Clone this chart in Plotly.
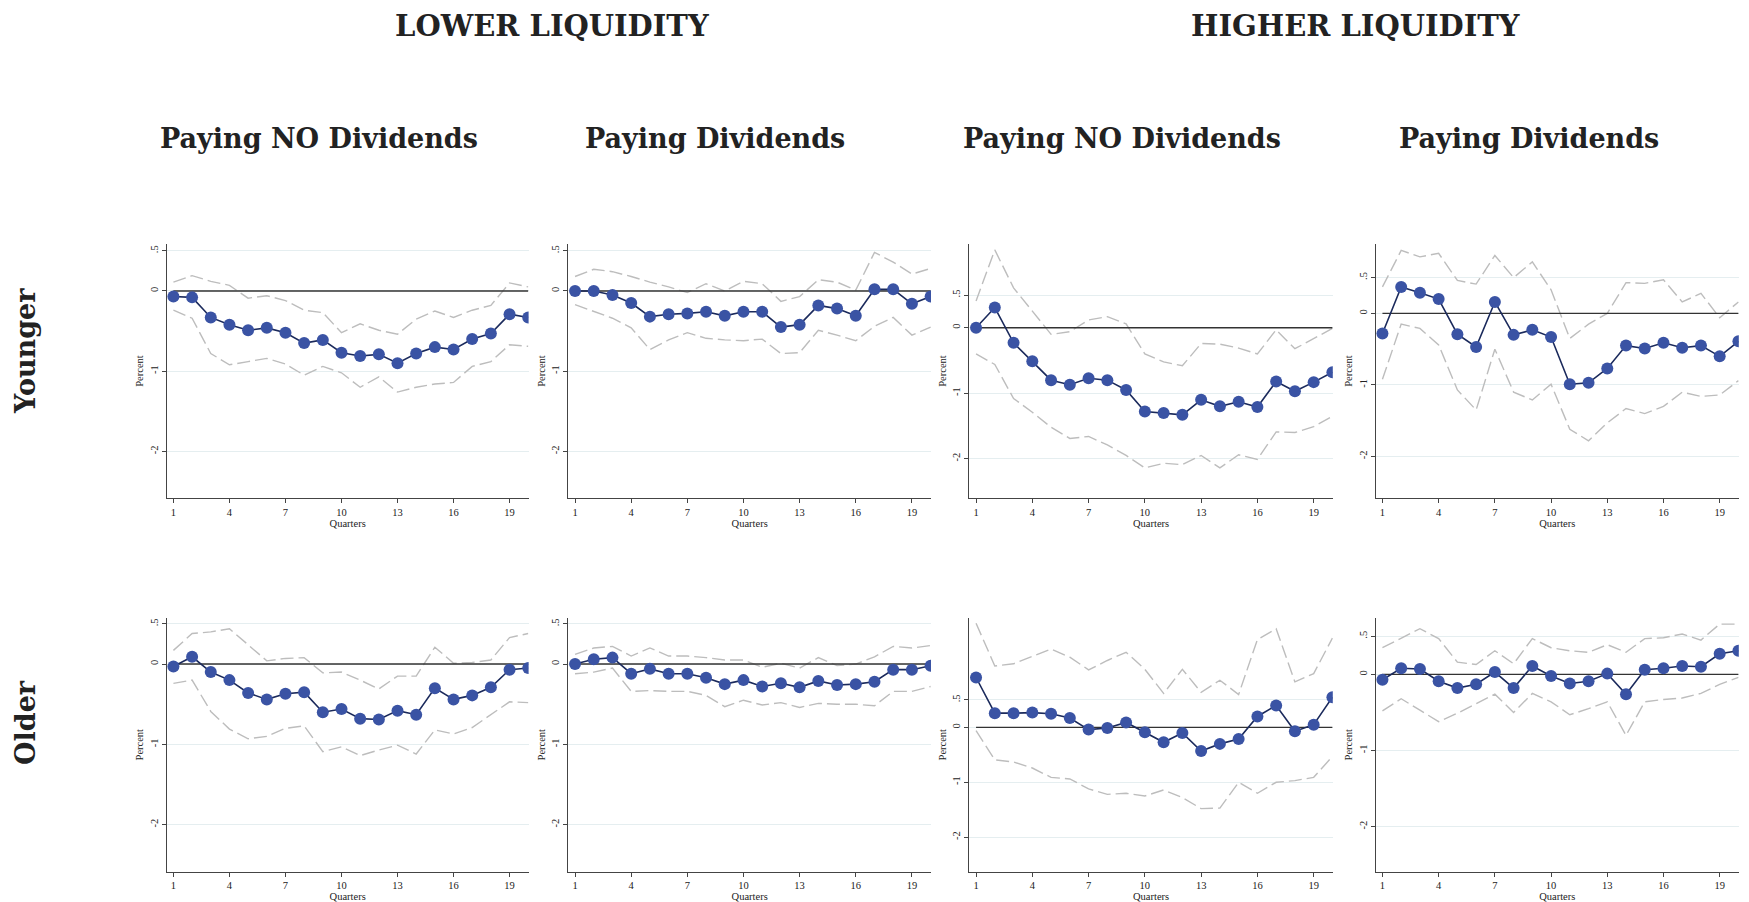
import plotly.graph_objects as go

# ---- data ----
quarters = list(range(1, 21))
x_ticks = [1, 4, 7, 10, 13, 16, 19]
y_ticks = [-2, -1, 0, 0.5]
y_tick_text = ["-2", "-1", "0", ".5"]

col_titles = ["Paying NO Dividends", "Paying Dividends", "Paying NO Dividends", "Paying Dividends"]
group_titles = ["LOWER LIQUIDITY", "HIGHER LIQUIDITY"]
row_titles = ["Younger", "Older"]

# Younger, lower liquidity, no dividends
young_low_nodiv = [-0.07, -0.08, -0.33, -0.42, -0.49, -0.46, -0.52, -0.65, -0.61, -0.77,
                   -0.81, -0.79, -0.90, -0.78, -0.70, -0.73, -0.60, -0.53, -0.29, -0.33]
young_low_nodiv_hi = [0.11, 0.19, 0.12, 0.07, -0.09, -0.06, -0.12, -0.24, -0.27, -0.52,
                      -0.41, -0.49, -0.54, -0.35, -0.25, -0.33, -0.24, -0.18, 0.10, 0.05]
young_low_nodiv_lo = [-0.24, -0.34, -0.78, -0.92, -0.88, -0.84, -0.91, -1.05, -0.94, -1.02,
                      -1.20, -1.07, -1.26, -1.20, -1.16, -1.14, -0.94, -0.88, -0.67, -0.69]

# Younger, lower liquidity, dividends
young_low_div = [0.00, 0.00, -0.05, -0.15, -0.32, -0.29, -0.28, -0.26, -0.31, -0.26,
                 -0.26, -0.45, -0.42, -0.18, -0.22, -0.31, 0.02, 0.02, -0.16, -0.07]
young_low_div_hi = [0.18, 0.27, 0.24, 0.18, 0.11, 0.05, -0.02, 0.09, 0.00, 0.12,
                    0.09, -0.13, -0.07, 0.14, 0.11, 0.01, 0.48, 0.36, 0.21, 0.28]
young_low_div_lo = [-0.17, -0.26, -0.34, -0.46, -0.73, -0.61, -0.52, -0.59, -0.61, -0.62,
                    -0.60, -0.78, -0.77, -0.49, -0.55, -0.62, -0.44, -0.33, -0.55, -0.45]

# Younger, higher liquidity, no dividends
young_high_nodiv = [0.00, 0.31, -0.23, -0.51, -0.80, -0.87, -0.77, -0.80, -0.95, -1.28,
                    -1.30, -1.33, -1.10, -1.20, -1.13, -1.21, -0.82, -0.97, -0.83, -0.68]
young_high_nodiv_hi = [0.41, 1.19, 0.61, 0.25, -0.10, -0.06, 0.12, 0.17, 0.06, -0.40,
                       -0.52, -0.58, -0.24, -0.25, -0.31, -0.40, -0.03, -0.32, -0.16, -0.01]
young_high_nodiv_lo = [-0.40, -0.56, -1.08, -1.29, -1.52, -1.69, -1.66, -1.79, -1.95, -2.14,
                       -2.07, -2.09, -1.95, -2.14, -1.94, -2.01, -1.59, -1.60, -1.51, -1.35]

# Younger, higher liquidity, dividends
young_high_div = [-0.28, 0.37, 0.29, 0.20, -0.29, -0.47, 0.16, -0.30, -0.23, -0.33,
                  -0.99, -0.97, -0.77, -0.45, -0.49, -0.41, -0.48, -0.45, -0.60, -0.39]
young_high_div_hi = [0.37, 0.88, 0.79, 0.84, 0.46, 0.41, 0.81, 0.50, 0.72, 0.33,
                     -0.35, -0.15, 0.00, 0.43, 0.42, 0.47, 0.16, 0.28, -0.06, 0.16]
young_high_div_lo = [-0.92, -0.15, -0.21, -0.44, -1.07, -1.35, -0.50, -1.10, -1.21, -0.99,
                     -1.62, -1.78, -1.53, -1.33, -1.40, -1.30, -1.10, -1.16, -1.14, -0.94]

# Older, lower liquidity, no dividends
old_low_nodiv = [-0.03, 0.09, -0.10, -0.20, -0.36, -0.44, -0.37, -0.35, -0.60, -0.56,
                 -0.68, -0.69, -0.58, -0.63, -0.30, -0.44, -0.39, -0.29, -0.07, -0.05]
old_low_nodiv_hi = [0.17, 0.38, 0.40, 0.44, 0.24, 0.04, 0.07, 0.08, -0.11, -0.10,
                    -0.20, -0.31, -0.15, -0.15, 0.21, 0.01, 0.02, 0.05, 0.33, 0.38]
old_low_nodiv_lo = [-0.24, -0.20, -0.59, -0.81, -0.93, -0.90, -0.80, -0.77, -1.09, -1.03,
                    -1.14, -1.07, -1.01, -1.12, -0.82, -0.87, -0.79, -0.63, -0.47, -0.48]

# Older, lower liquidity, dividends
old_low_div = [0.00, 0.06, 0.08, -0.12, -0.06, -0.12, -0.12, -0.17, -0.25, -0.20,
               -0.28, -0.24, -0.29, -0.21, -0.26, -0.25, -0.22, -0.07, -0.07, -0.02]
old_low_div_hi = [0.12, 0.20, 0.22, 0.10, 0.20, 0.10, 0.10, 0.08, 0.05, 0.05,
                  -0.04, 0.01, -0.05, 0.08, -0.02, 0.00, 0.09, 0.22, 0.20, 0.23]
old_low_div_lo = [-0.12, -0.10, -0.05, -0.34, -0.33, -0.34, -0.34, -0.39, -0.53, -0.45,
                  -0.51, -0.48, -0.54, -0.49, -0.50, -0.50, -0.52, -0.34, -0.34, -0.28]

# Older, higher liquidity, no dividends
old_high_nodiv = [0.91, 0.26, 0.26, 0.27, 0.25, 0.17, -0.04, -0.01, 0.09, -0.09,
                  -0.27, -0.10, -0.43, -0.30, -0.21, 0.20, 0.40, -0.07, 0.05, 0.55]
old_high_nodiv_hi = [1.90, 1.12, 1.16, 1.29, 1.43, 1.28, 1.05, 1.22, 1.37, 1.06,
                     0.62, 1.06, 0.64, 0.86, 0.60, 1.60, 1.80, 0.83, 0.98, 1.63]
old_high_nodiv_lo = [-0.06, -0.59, -0.63, -0.74, -0.91, -0.94, -1.12, -1.22, -1.20, -1.25,
                     -1.14, -1.28, -1.48, -1.47, -1.00, -1.20, -1.00, -0.97, -0.91, -0.53]

# Older, higher liquidity, dividends
old_high_div = [-0.07, 0.08, 0.07, -0.09, -0.18, -0.13, 0.03, -0.18, 0.11, -0.02,
                -0.12, -0.09, 0.01, -0.26, 0.06, 0.08, 0.11, 0.10, 0.27, 0.31]
old_high_div_hi = [0.35, 0.47, 0.60, 0.47, 0.16, 0.13, 0.31, 0.14, 0.47, 0.35,
                   0.31, 0.29, 0.39, 0.29, 0.47, 0.48, 0.53, 0.45, 0.66, 0.66]
old_high_div_lo = [-0.48, -0.32, -0.47, -0.62, -0.51, -0.39, -0.26, -0.50, -0.25, -0.36,
                   -0.53, -0.45, -0.36, -0.80, -0.36, -0.33, -0.31, -0.25, -0.13, -0.04]

# ---- styling ----
W, H = 1749, 902
MARKER_COLOR = "#3A53A4"
LINE_COLOR = "#1B2A5C"
BAND_COLOR = "#BDBDBD"
GRID_COLOR = "#E5EEF0"
AXIS_COLOR = "#444444"
TEXT_COLOR = "#222222"
TICK_FONT = dict(family="Liberation Serif, Times New Roman, serif", size=10.5, color=TEXT_COLOR)
GROUP_FONT = dict(family="DejaVu Serif, serif", size=29, color=TEXT_COLOR)
HEAD_FONT = dict(family="DejaVu Serif, serif", size=27, color=TEXT_COLOR)

# pixel boxes for the panels (left, right) and rows (top, bottom)
col_px = [(166.7, 528.6), (568.3, 931.0), (969.3, 1332.8), (1375.7, 1738.8)]
row_px = [(244.0, 498.0), (617.7, 871.7)]

panels = [
    (0, 0, young_low_nodiv, young_low_nodiv_hi, young_low_nodiv_lo, [-2.58, 0.585]),
    (0, 1, young_low_div, young_low_div_hi, young_low_div_lo, [-2.58, 0.585]),
    (0, 2, young_high_nodiv, young_high_nodiv_hi, young_high_nodiv_lo, [-2.6, 1.28]),
    (0, 3, young_high_div, young_high_div_hi, young_high_div_lo, [-2.58, 0.97]),
    (1, 0, old_low_nodiv, old_low_nodiv_hi, old_low_nodiv_lo, [-2.585, 0.577]),
    (1, 1, old_low_div, old_low_div_hi, old_low_div_lo, [-2.585, 0.577]),
    (1, 2, old_high_nodiv, old_high_nodiv_hi, old_high_nodiv_lo, [-2.63, 2.0]),
    (1, 3, old_high_div, old_high_div_hi, old_high_div_lo, [-2.59, 0.744]),
]

fig = go.Figure()
layout = {}

for i, (r, c, est, hi, lo, yr) in enumerate(panels, start=1):
    xa = "x" if i == 1 else f"x{i}"
    ya = "y" if i == 1 else f"y{i}"
    xkey = "xaxis" if i == 1 else f"xaxis{i}"
    ykey = "yaxis" if i == 1 else f"yaxis{i}"

    for band in (hi, lo):
        fig.add_trace(go.Scatter(
            x=quarters, y=band, mode="lines", xaxis=xa, yaxis=ya,
            line=dict(color=BAND_COLOR, width=1.4, dash="13px,5px"),
            showlegend=False, hoverinfo="skip",
        ))
    # zero reference line across the horizon
    fig.add_trace(go.Scatter(
        x=[quarters[0], quarters[-1]], y=[0, 0], mode="lines", xaxis=xa, yaxis=ya,
        line=dict(color="#333333", width=1.4), showlegend=False, hoverinfo="skip",
    ))
    fig.add_trace(go.Scatter(
        x=quarters, y=est, mode="lines+markers", xaxis=xa, yaxis=ya,
        line=dict(color=LINE_COLOR, width=1.6),
        marker=dict(size=12, color=MARKER_COLOR),
        showlegend=False,
        hovertemplate="Quarter %{x}<br>%{y:.2f}%<extra></extra>",
    ))

    x0, x1 = col_px[c]
    y0, y1 = row_px[r]
    layout[xkey] = dict(
        domain=[x0 / W, x1 / W], anchor=ya, range=[0.64, 20.02],
        tickmode="array", tickvals=x_ticks, ticks="outside", ticklen=4,
        tickcolor=AXIS_COLOR, showline=True, linecolor=AXIS_COLOR, linewidth=1,
        showgrid=False, zeroline=False, tickfont=TICK_FONT,
        title=dict(text="Quarters", font=TICK_FONT, standoff=0),
    )
    layout[ykey] = dict(
        domain=[1 - y1 / H, 1 - y0 / H], anchor=xa, range=yr,
        tickmode="array", tickvals=y_ticks, ticktext=y_tick_text, tickangle=-90,
        ticks="outside", ticklen=4, tickcolor=AXIS_COLOR,
        showline=True, linecolor=AXIS_COLOR, linewidth=1,
        showgrid=True, gridcolor=GRID_COLOR, gridwidth=1, zeroline=False,
        tickfont=TICK_FONT,
        title=dict(text="Percent", font=TICK_FONT, standoff=2),
    )

annotations = []
for text, cx in zip(group_titles, [552, 1355]):
    annotations.append(dict(
        text=f"<b>{text}</b>", x=cx / W, y=1 - 26 / H, xref="paper", yref="paper",
        showarrow=False, font=GROUP_FONT, xanchor="center", yanchor="middle",
    ))
for text, cx in zip(col_titles, [319, 715, 1122, 1529]):
    annotations.append(dict(
        text=f"<b>{text}</b>", x=cx / W, y=1 - 139 / H, xref="paper", yref="paper",
        showarrow=False, font=HEAD_FONT, xanchor="center", yanchor="middle",
    ))
for text, cy in zip(row_titles, [351, 723]):
    annotations.append(dict(
        text=f"<b>{text}</b>", x=25 / W, y=1 - cy / H, xref="paper", yref="paper",
        showarrow=False, font=HEAD_FONT, textangle=-90, xanchor="center", yanchor="middle",
    ))

fig.update_layout(
    width=W, height=H,
    margin=dict(l=0, r=0, t=0, b=0),
    paper_bgcolor="white", plot_bgcolor="white",
    annotations=annotations,
    **layout,
)

# drop the browser's default body margin so the figure sits flush in the window
fig.write_html("out.html", config={"displayModeBar": False},
               post_script="document.body.style.margin='0';")
